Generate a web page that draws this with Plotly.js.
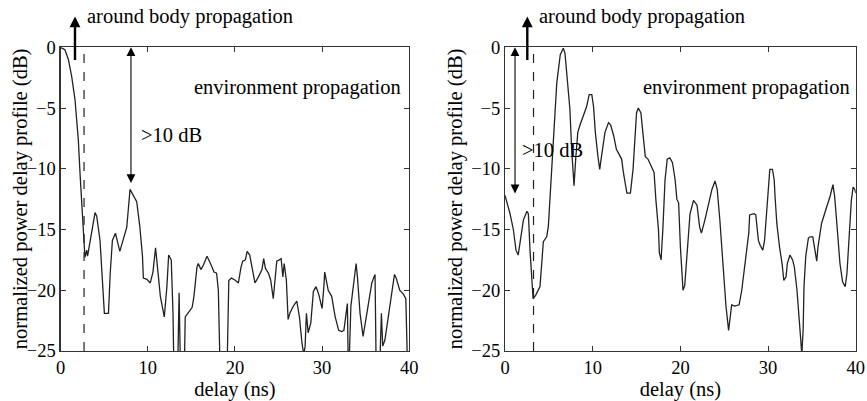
<!DOCTYPE html>
<html>
<head>
<meta charset="utf-8">
<script src="https://cdn.plot.ly/plotly-3.0.1.min.js"></script>
<style>html,body{margin:0;padding:0;background:#fff;}#chart{width:867px;height:401px;}</style>
</head>
<body>
<div id="chart"></div>
<script>
// ---- data (delay in ns, normalized PDP in dB; values below -25 are clipped by the axis) ----
const leftDelay = [0,0.5,0.9,1.28,1.66,2.04,2.24,2.43,2.6,2.8,3.0,3.1,3.96,4.15,4.53,4.84,5.03,5.5,5.7,5.95,6.3,6.8,7.2,7.6,7.97,8.35,8.74,9.1,9.4,9.5,9.9,10.3,10.6,10.9,11.1,11.45,11.9,12.2,12.4,12.7,12.9,13.0,13.3,13.45,13.6,13.75,14.2,14.3,14.7,15.1,15.3,15.65,15.8,16.1,16.4,16.8,17.2,17.6,17.9,18.1,18.3,19.1,19.3,19.6,20.0,20.4,20.7,20.9,21.2,21.4,21.7,21.95,22.3,22.7,23.1,23.3,23.5,23.85,24.1,24.4,24.6,24.8,25.1,25.3,25.5,25.65,25.9,26.1,26.3,26.7,27.1,27.4,27.7,27.9,28.05,28.2,28.4,28.7,29.0,29.3,29.6,30.0,30.2,30.3,30.7,31.1,31.5,31.9,32.25,32.5,32.75,32.9,33.0,33.1,33.3,33.5,33.8,33.9,34.05,34.35,34.7,35.0,35.3,35.7,35.95,36.07,36.2,36.6,36.8,36.95,37.2,37.6,38.0,38.3,38.5,38.9,39.3,39.6,39.8,40];
const leftPDP = [0,-0.2,-1.0,-2.4,-4.3,-7.6,-10.4,-13.1,-14.8,-17.3,-16.7,-17.2,-13.6,-13.9,-15.9,-19.1,-21.9,-21.9,-18.6,-15.9,-15.3,-16.8,-15.9,-14.8,-11.7,-12.2,-12.7,-14.8,-17.2,-19.0,-19.1,-19.4,-18.5,-16.5,-18.1,-20.5,-22.2,-19.7,-17.1,-17.5,-21.9,-26.5,-26.5,-26,-20.2,-26.5,-26.5,-22.2,-21.8,-21.4,-20.5,-18.1,-17.8,-18.3,-17.9,-17.2,-17.8,-18.5,-18.6,-20,-26.5,-26.5,-19.2,-19.0,-19.15,-19.4,-18.1,-17.6,-17.5,-16.8,-17.1,-18.1,-19.4,-18.9,-18.3,-17.4,-18.2,-18.6,-19.15,-20.7,-19.15,-17.6,-17.5,-17.4,-18.9,-17.8,-19.15,-22.4,-21.9,-21.3,-20.9,-22.2,-24.4,-25.3,-24.6,-21.9,-23.5,-22.7,-20.1,-19.7,-20.3,-21.5,-19.7,-18.5,-20,-20.5,-22.2,-23.3,-23.4,-23.3,-21.9,-21.1,-26.5,-26,-21.3,-20,-18.6,-17.8,-18.9,-21.9,-23.8,-22.4,-21.1,-19.4,-18.9,-18.7,-26.5,-26.5,-21.9,-24.6,-24.1,-22.2,-20,-18.7,-19.0,-20,-20.3,-20.7,-26.5,-26.5];

const rightDelay = [0,0.57,0.95,1.25,1.5,1.8,2.1,2.5,2.66,2.85,3.04,3.2,3.5,3.99,4.37,4.75,4.94,5.13,5.3,5.6,5.9,6.3,6.65,6.84,7.1,7.4,7.6,7.87,8.06,8.3,8.55,8.9,9.3,9.6,9.9,10.1,10.3,10.6,10.8,11.0,11.4,11.8,12.05,12.4,12.7,13.3,13.5,13.9,14.3,14.6,14.8,15.0,15.2,15.5,15.8,16.0,16.3,16.7,17.0,17.2,17.5,17.6,17.8,18.0,18.1,18.25,18.5,18.8,19.1,19.4,19.6,19.8,20.0,20.3,20.5,20.7,21.1,21.5,21.9,22.2,22.4,22.8,23.2,23.6,23.95,24.2,24.5,24.9,25.2,25.5,25.7,25.85,26.2,26.7,27.0,27.4,27.8,27.9,28.4,28.6,28.9,29.1,29.4,29.6,29.8,30.0,30.2,30.5,30.7,30.8,31.0,31.3,31.6,31.8,32.05,32.2,32.5,32.8,33.0,33.3,33.6,33.7,33.85,34.0,34.1,34.3,34.6,34.8,35.1,35.4,35.55,35.7,36.1,36.7,37.1,37.4,37.6,37.9,38.2,38.5,38.8,39.0,39.2,39.5,39.7,39.9,40];
const rightPDP = [-12.2,-13.7,-15.0,-16.7,-17.1,-15.7,-14.2,-13.5,-13.7,-16.7,-18.9,-20.7,-20.4,-19.7,-16,-15.6,-14.76,-12.3,-10.9,-6.5,-2.95,-0.6,-0.08,-0.5,-2.4,-5.1,-8.4,-11.4,-9.2,-7.0,-6.4,-5.7,-4.9,-3.9,-3.9,-4.9,-7.0,-9.0,-10.05,-9.0,-7.0,-6.2,-6.4,-7.3,-8.4,-9.2,-10.3,-12.0,-12.0,-10.05,-7.6,-5.4,-5.0,-5.4,-7.6,-9.0,-9.2,-9.8,-10.3,-12.5,-15.0,-16.9,-17.5,-15.0,-12.6,-10.9,-9.2,-9.1,-9.5,-10.9,-12.5,-12.8,-16.4,-20,-19.6,-17.8,-13.7,-12.6,-13.0,-14.8,-15.3,-14.2,-12.8,-11.7,-11.0,-11.7,-14.2,-18.3,-21.3,-23.3,-21.9,-21.2,-21.3,-21.2,-20,-17.8,-15.3,-13.8,-13.7,-13.8,-15.9,-16.3,-16.7,-15.9,-13.7,-11.5,-10.05,-10.05,-10.9,-12.3,-14.5,-16.4,-17.8,-19.2,-18.9,-17.8,-17.1,-17.5,-18.1,-20,-22.4,-23.8,-25.3,-23.3,-19.7,-17.2,-15.7,-15.6,-15.6,-17,-17.6,-16.4,-14.5,-13.1,-12.2,-11.3,-12.3,-15.0,-17.8,-19.3,-19.7,-18.6,-15.9,-12.6,-11.5,-11.7,-12.0];

const xTicks = [0, 10, 20, 30, 40];
const yTicks = [0, -5, -10, -15, -20, -25];

// annotation anchors (data units)
const cutoffDelay = [2.7, 3.25];          // dashed separators
const bodyArrowDelay = [1.66, 2.54];      // "around body propagation" arrows
const gapArrowDelay = [8.08, 1.14];       // ">10 dB" arrows
const gapArrowBottom = [-11.3, -12.15];

const FONT = 'Liberation Serif';
const ink = '#000';

function axisCommon(domain) {
  return {
    domain: domain, showline: true, mirror: 'ticks', linecolor: '#333', linewidth: 1.1,
    ticks: 'inside', ticklen: 5, tickcolor: '#333', showgrid: false, zeroline: false,
    tickfont: {family: FONT, size: 18.5, color: ink}, fixedrange: true
  };
}

const traces = [
  {x: leftDelay, y: leftPDP, xaxis: 'x', yaxis: 'y', type: 'scatter', mode: 'lines',
   line: {color: '#222', width: 1.3}, cliponaxis: true, showlegend: false},
  {x: rightDelay, y: rightPDP, xaxis: 'x2', yaxis: 'y2', type: 'scatter', mode: 'lines',
   line: {color: '#222', width: 1.3}, cliponaxis: true, showlegend: false}
];

const ydom = [0.1247, 0.882];
const titleFont = {family: FONT, size: 20.5, color: ink};
const layout = {
  width: 867, height: 401, margin: {l: 0, r: 0, t: 0, b: 0},
  paper_bgcolor: '#fff', plot_bgcolor: '#fff', showlegend: false,
  font: {family: FONT, color: ink},
  xaxis: Object.assign(axisCommon([0.0698, 0.4721]), {range: [0, 40], tickvals: xTicks,
    title: {text: 'delay (ns)', font: titleFont}, anchor: 'y'}),
  yaxis: Object.assign(axisCommon(ydom), {range: [-25, 0], tickvals: yTicks, anchor: 'x'}),
  xaxis2: Object.assign(axisCommon([0.5825, 0.9870]), {range: [0, 40], tickvals: xTicks,
    title: {text: 'delay (ns)', font: titleFont}, anchor: 'y2'}),
  yaxis2: Object.assign(axisCommon(ydom), {range: [-25, 0], tickvals: yTicks, anchor: 'x2'}),
  shapes: [],
  annotations: []
};

const axes = [['x', 'y'], ['x2', 'y2']];
const yTitleX = [20 / 867, 455 / 867];
const envTextX = [39.3, 39.55];
const gapTextX = [9.04, 1.68];
const gapTextY = [-7.2, -8.45];
const bodyTextX = [2.81, 3.68];

axes.forEach(function (ax, i) {
  // y-axis title
  layout.annotations.push({xref: 'paper', yref: ax[1] + ' domain', x: yTitleX[i], y: 0.5,
    xanchor: 'center', yanchor: 'middle', textangle: -90, showarrow: false,
    text: 'normalized power delay profile (dB)', font: titleFont});
  layout.shapes.push({type: 'line', xref: ax[0], yref: ax[1] + ' domain',
    x0: cutoffDelay[i], x1: cutoffDelay[i], y0: 0, y1: 1,
    line: {color: '#222', width: 1.2, dash: 'dash'}});
  layout.annotations.push({xref: ax[0], yref: 'paper', x: bodyArrowDelay[i], y: 0.959,
    text: '', showarrow: true, ax: 0, ay: 45, arrowhead: 2, arrowsize: 0.9, arrowwidth: 2.4,
    arrowcolor: '#000', standoff: 0, startstandoff: 0});
  layout.annotations.push({xref: ax[0], yref: 'paper', x: bodyTextX[i], y: 0.958,
    xanchor: 'left', yanchor: 'middle', text: 'around body propagation', showarrow: false,
    font: titleFont});
  layout.annotations.push({xref: ax[0], yref: ax[1], x: gapArrowDelay[i], y: 0,
    axref: ax[0], ayref: ax[1], ax: gapArrowDelay[i], ay: gapArrowBottom[i],
    text: '', showarrow: true, arrowside: 'end+start', arrowhead: 2, startarrowhead: 2,
    arrowsize: 1.6, startarrowsize: 1.6, arrowwidth: 1.1, arrowcolor: '#000', standoff: 0, startstandoff: 0});
  layout.annotations.push({xref: ax[0], yref: ax[1], x: gapTextX[i], y: gapTextY[i],
    xanchor: 'left', yanchor: 'middle', text: '>10 dB', showarrow: false, font: titleFont});
  layout.annotations.push({xref: ax[0], yref: ax[1], x: envTextX[i], y: -3.3,
    xanchor: 'right', yanchor: 'middle', text: 'environment propagation', showarrow: false,
    font: titleFont});
});

Plotly.newPlot('chart', traces, layout, {displayModeBar: false, staticPlot: true});
</script>
</body>
</html>
